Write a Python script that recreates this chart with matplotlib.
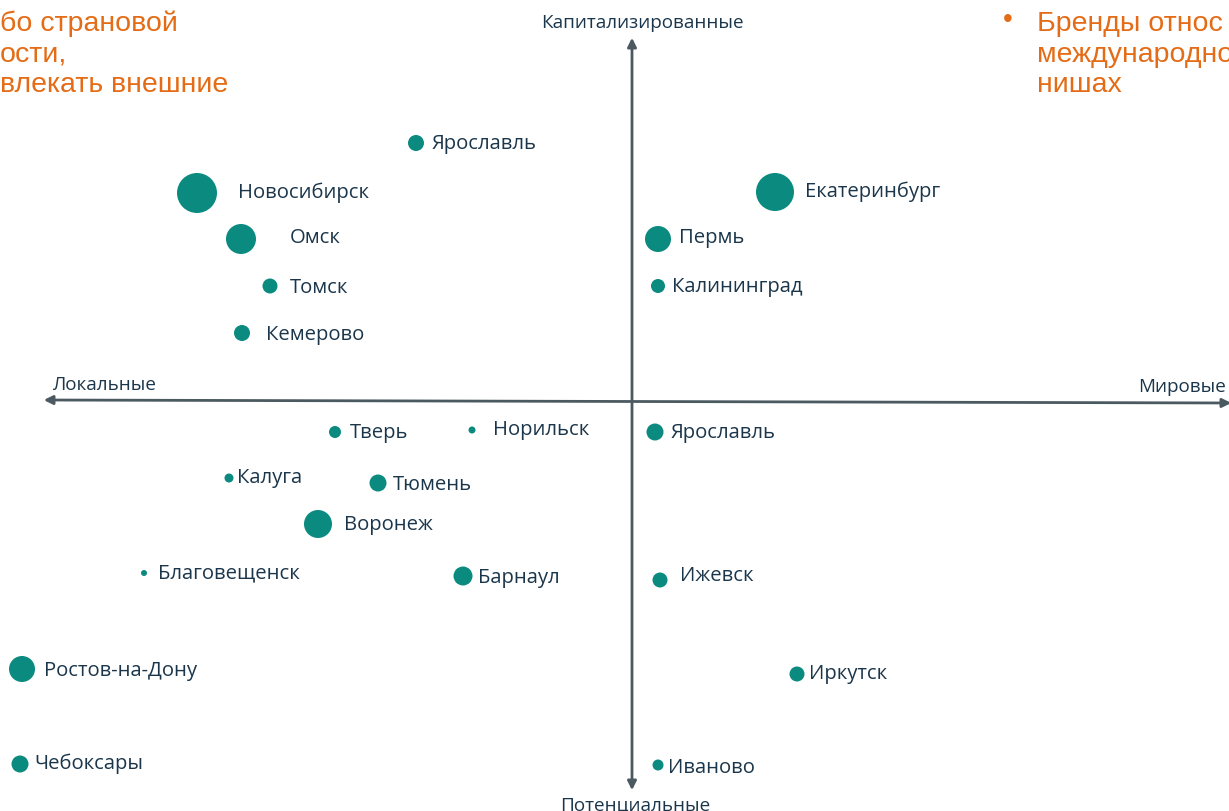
import matplotlib.pyplot as plt

# positioning map: local <-> global (x), potential <-> capitalised (y)
cities = ["Ярославль", "Новосибирск", "Омск", "Томск", "Кемерово",
          "Екатеринбург", "Пермь", "Калининград",
          "Тверь", "Норильск", "Ярославль", "Калуга", "Тюмень", "Воронеж",
          "Благовещенск", "Барнаул", "Ижевск", "Ростов-на-Дону", "Иркутск",
          "Чебоксары", "Иваново"]
globalness = [-21.6, -43.5, -39.1, -36.2, -39.0,
              14.3, 2.6, 2.6,
              -29.7, -16.0, 2.3, -40.3, -25.4, -31.4,
              -48.8, -16.9, 2.8, -61.0, 16.5,
              -61.2, 2.6]
capitalisation = [25.8, 20.8, 16.2, 11.5, 6.8,
                  20.9, 16.2, 11.5,
                  -3.1, -2.9, -3.1, -7.7, -8.2, -12.3,
                  -17.2, -17.5, -17.9, -26.8, -27.3,
                  -36.3, -36.4]
brand_size = [16, 40, 30, 15, 16,
              38, 26, 14,
              12, 7, 17, 9, 17, 28,
              6, 19, 15, 26, 15,
              17, 11]
# horizontal gap between bubble centre and label (pixels)
label_dx = [16, 41, 49, 20, 24,
            30, 21, 14,
            15, 21, 16, 8, 15, 26,
            14, 15, 20, 22, 12,
            14, 10]
label_dy = [0.0, 0.1, 0.2, -0.1, -0.1,
            0.1, 0.2, 0.0,
            0.0, 0.1, 0.0, 0.1, -0.1, 0.0,
            0.1, -0.1, 0.5, -0.1, 0.1,
            0.1, -0.2]

left_note = ["бо страновой", "ости,", "влекать внешние"]
right_note = ["Бренды относ", "международно", "нишах"]

teal = "#0b8a80"
navy = "#1b364b"
orange = "#e46c17"
axis_grey = "#4b5a61"

fig = plt.figure(figsize=(12.29, 8.12), dpi=100)
ax = fig.add_axes([0, 0, 1, 1])
ax.set_xlim(-63.2, 59.7)
ax.set_ylim(-41.0, 40.2)
ax.axis("off")

# axes with arrows
arrow = dict(arrowstyle="<|-|>", color=axis_grey, lw=2.0, mutation_scale=13)
ax.annotate("", xy=(-59.1, 0.1), xytext=(60.2, -0.2), arrowprops=arrow)
ax.annotate("", xy=(0, 36.6), xytext=(0, -39.2), arrowprops=arrow)

lab = dict(family="Open Sans", color=navy, fontsize=13.6)
ax.text(1.0, 37.0, "Капитализированные", ha="center", va="bottom", **lab)
ax.text(-57.9, 0.8, "Локальные", ha="left", va="bottom", **lab)
ax.text(59.4, 0.6, "Мировые", ha="right", va="bottom", **lab)
ax.text(0.3, -39.4, "Потенциальные", ha="center", va="top", **lab)

ax.scatter(globalness, capitalisation, s=[(d * 0.72) ** 2 for d in brand_size],
           color=teal, linewidths=0, zorder=3)
for name, x, y, dx, dy in zip(cities, globalness, capitalisation, label_dx, label_dy):
    ax.text(x + dx / 10, y + dy, name, ha="left", va="center",
            family="Open Sans", color=navy, fontsize=14.6)

# orange callouts, cut off by the slide edges
note = dict(family="Liberation Sans", color=orange, fontsize=20.5, va="baseline")
for i, line in enumerate(left_note):
    fig.text(0.0, 1 - (31 + 30.5 * i) / 812, line, ha="left", **note)
fig.text(1008 / 1229, 1 - 20 / 812, "•", ha="center", va="center",
         family="Liberation Sans", color=orange, fontsize=20)
for i, line in enumerate(right_note):
    fig.text(1037 / 1229, 1 - (31 + 30.5 * i) / 812, line, ha="left", **note)

fig.savefig("out.png", dpi=100)
